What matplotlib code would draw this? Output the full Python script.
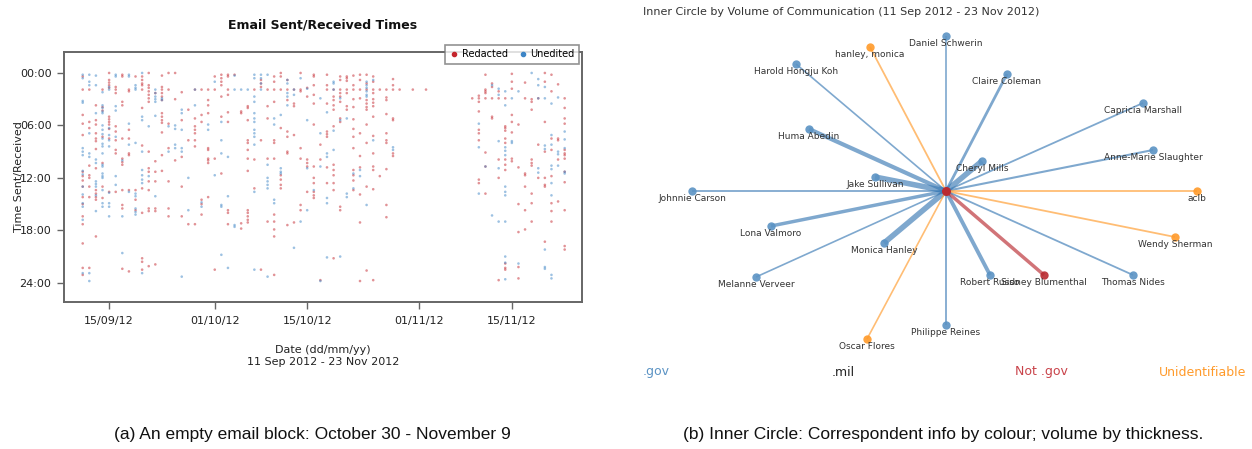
import numpy as np
import matplotlib
matplotlib.use("Agg")
import matplotlib.pyplot as plt
import matplotlib.dates as mdates
from matplotlib.lines import Line2D

# ── Panel (a): email times, hours of day per day since 11 Sep 2012 ───────────
START_DATE = np.datetime64("2012-09-11")

redacted_hours_by_day = [
    [0.4, 1.9, 4.8, 5.8, 7.1, 11.3, 11.8, 12.3, 13.0, 14.2, 15.0, 16.4, 17.3, 19.5, 22.3, 23.1],
    [1.9, 5.6, 6.3, 10.6, 11.7, 12.0, 13.0, 14.2, 22.3],
    [3.7, 5.4, 5.9, 6.9, 7.5, 7.8, 8.7, 10.9, 13.4, 13.8, 14.2, 14.5, 18.7],
    [1.9, 3.9, 4.3, 7.3, 10.3, 13.0, 14.3],
    [0.0, 0.8, 1.1, 1.4, 1.7, 5.0, 5.3, 5.6, 5.9, 6.4, 7.5, 13.6],
    [1.6, 1.9, 2.3, 6.1, 6.7, 7.7, 8.8, 9.2, 13.6],
    [0.2, 0.4, 3.3, 3.7, 7.5, 9.8, 10.2, 10.5, 13.4, 15.1, 15.5, 22.4],
    [1.9, 2.1, 6.5, 7.5, 9.2, 9.4, 13.4, 22.7],
    [0.4, 13.4, 14.5, 15.7],
    [0.4, 0.8, 1.2, 1.4, 1.9, 4.0, 8.3, 13.2, 16.0, 21.2, 21.6, 22.5],
    [0.0, 1.4, 1.7, 2.1, 2.5, 2.9, 3.3, 9.0, 10.9, 11.3, 12.4, 13.4, 15.5, 15.8, 22.1],
    [2.3, 10.1, 11.3, 12.4, 15.5, 15.8, 21.9],
    [0.3, 1.6, 1.9, 2.3, 2.7, 3.1, 4.6, 5.0, 5.4, 5.7, 6.8, 9.4, 11.2],
    [0.0, 1.9, 5.8, 8.6, 12.4, 15.5, 16.4],
    [0.0, 3.0, 10.0],
    [2.2, 5.4, 9.6, 13.0, 16.4],
    [4.2, 7.7, 17.3],
    [1.9, 5.2, 6.1, 6.5, 6.9, 7.7, 8.4, 17.3],
    [1.9, 4.8, 5.6, 14.5, 15.0, 16.2],
    [1.9, 3.1, 3.7, 4.6, 8.6, 8.8, 9.8, 10.0, 10.3, 14.2],
    [0.4, 1.9, 9.8, 22.5],
    [0.2, 0.6, 1.0, 1.4, 2.7, 5.0, 11.5],
    [0.2, 0.4, 1.9, 2.5, 4.5, 5.6, 15.7, 16.0, 17.3],
    [0.2],
    [4.4, 4.6, 17.2, 17.8],
    [3.8, 4.0, 5.4, 7.7, 8.0, 8.8, 9.8, 11.2, 15.7, 16.0, 16.4, 16.8, 17.1],
    [1.9, 9.9, 13.2],
    [0.8, 1.2, 1.6, 7.7, 22.5],
    [1.9, 3.8, 5.2, 9.8, 17.0],
    [0.4, 1.0, 1.9, 3.3, 7.7, 8.0, 9.8, 16.2, 17.0, 17.9, 18.7, 23.1],
    [0.0, 0.4, 1.9, 6.3, 11.7, 12.2, 12.8, 13.2],
    [0.8, 1.9, 3.1, 6.7, 7.3, 9.0, 9.2, 17.4],
    [1.9, 3.5, 3.8, 7.1, 17.1],
    [0.0, 1.9, 2.1, 8.6, 9.8, 15.1, 15.7],
    [1.7, 2.7, 9.9, 10.3, 10.7, 13.6],
    [0.2, 0.4, 1.4, 2.5, 3.5, 5.9, 10.7, 12.0, 12.6, 13.6, 14.0, 14.3],
    [8.2, 9.9, 23.7],
    [0.2, 1.4, 1.9, 3.5, 6.7, 7.0, 7.3, 10.8, 12.6],
    [1.9, 2.7, 3.1, 3.7, 4.2, 6.1, 10.5, 11.1, 11.7, 12.6, 13.4, 21.2],
    [0.4, 0.8, 1.9, 2.3, 2.7, 3.3, 5.2, 5.6, 15.3, 15.7],
    [0.4, 0.6, 0.9, 1.9, 2.3, 3.8, 4.2],
    [0.3, 1.4, 1.9, 3.0, 3.9, 5.3, 6.4, 7.3, 8.6, 11.1, 11.7, 12.3, 13.4],
    [0.2, 0.8, 1.9, 2.9, 6.9, 9.5, 10.8, 13.9, 17.1, 23.8],
    [0.2, 1.2, 1.9, 3.1, 3.5, 3.9, 4.2, 5.9, 8.0, 13.0, 22.6],
    [0.4, 1.0, 1.9, 2.3, 3.0, 3.4, 3.8, 5.0, 7.2, 9.2, 10.7, 11.1, 13.3, 23.7],
    [1.9, 11.8],
    [1.9, 2.8, 3.1, 4.7, 6.9, 7.7, 8.0, 11.0, 15.1, 16.5],
    [0.7, 1.4, 1.9, 5.2, 5.4, 9.2, 9.5],
    [1.9],
    [],
    [1.9],
    [],
    [1.9],
    [], [], [], [], [], [],
    [2.9],
    [2.6, 2.9, 3.3, 4.4, 6.5, 6.9, 7.7, 12.2, 12.6],
    [0.2, 1.9, 2.1, 2.3, 2.9, 9.1, 10.7, 13.8],
    [1.2, 1.6, 2.9, 5.0, 5.2],
    [2.1, 2.9, 9.9, 12.0, 23.7],
    [2.9, 6.1, 6.3, 6.6, 7.5, 8.0, 9.9, 10.5, 11.1, 21.8, 22.3, 22.5],
    [0.1, 1.0, 1.8, 4.8, 5.6, 6.8, 9.8, 10.1],
    [5.9, 10.8, 15.0, 18.2, 22.2, 23.5],
    [1.1, 2.9, 11.5, 11.7, 13.0, 15.7, 17.9],
    [3.0, 3.3, 4.2, 9.9, 10.3, 10.6, 13.8, 14.9, 17.0],
    [2.9, 8.2, 12.0],
    [0.0, 1.0, 5.6, 9.0, 12.0, 12.8, 13.0, 19.3],
    [0.2, 2.1, 7.5, 8.8, 11.8, 14.9, 15.8, 17.0],
    [1.3, 7.5, 7.7, 9.9, 14.7],
    [2.9, 4.0, 5.2, 5.8, 8.8, 9.2, 9.4, 9.8, 11.3, 12.5, 15.7, 19.8, 20.2],
]

unedited_hours_by_day = [
    [0.2, 0.6, 3.2, 3.4, 8.6, 9.0, 9.4, 11.2, 11.6, 13.0, 13.9, 14.9, 15.3, 16.8, 22.9],
    [0.2, 1.0, 1.4, 6.9, 9.2, 9.6, 22.9, 23.8],
    [0.3, 1.4, 4.6, 9.9, 10.3, 12.4, 12.7, 13.0, 14.0, 15.8],
    [2.2, 3.7, 4.0, 4.4, 4.6, 6.0, 6.5, 7.0, 7.5, 8.1, 8.4, 9.2, 10.5, 10.7, 11.5, 11.8, 12.0, 13.4, 14.9, 15.3],
    [1.6, 1.9, 6.3, 7.1, 7.7, 8.4, 13.7, 14.9, 15.3, 16.4],
    [0.2, 0.4, 3.8, 4.3, 7.3, 11.8, 12.8],
    [10.0, 16.4, 20.6],
    [0.2, 0.4, 5.8, 8.2, 13.6],
    [1.4, 1.7, 1.9, 8.0, 13.8, 14.1, 15.5, 15.9, 16.2],
    [0.0, 5.0, 5.4, 9.0, 11.1, 11.7, 12.2, 12.6, 22.9],
    [6.1, 11.8],
    [1.9, 2.3, 2.7, 3.0, 3.3, 4.9, 14.1],
    [2.9, 3.1],
    [6.1, 9.0],
    [6.0, 6.4, 8.2, 8.6],
    [4.2, 4.6, 6.5, 8.6, 9.0, 23.3],
    [12.0, 15.7],
    [1.9, 3.7],
    [14.8, 15.3],
    [5.9, 6.5],
    [1.0, 11.7],
    [5.6, 7.7, 9.2, 15.1, 15.3, 20.8],
    [9.6, 14.1, 22.3],
    [0.3, 1.9, 17.4, 17.6],
    [1.9],
    [1.9],
    [0.2, 0.6, 2.7, 3.3, 4.6, 5.2, 5.6, 6.5, 6.9, 7.3, 8.2, 13.6, 22.5],
    [0.2, 0.6, 1.2, 1.9],
    [0.2, 10.5, 12.0, 12.4, 12.8, 13.2, 23.3],
    [5.2, 5.9, 14.5, 14.9],
    [4.8, 10.9, 11.3, 11.5],
    [0.8, 1.2, 2.3, 2.7, 3.7],
    [1.9, 2.5, 20.0],
    [0.6, 17.0],
    [1.8, 5.4, 10.9, 15.7],
    [13.4],
    [2.9, 6.9, 10.7, 23.8],
    [4.5, 9.2, 9.6, 14.3, 14.9, 21.1],
    [1.0, 1.2, 1.9, 6.6, 8.8],
    [2.9, 5.4, 21.0],
    [5.2, 13.8, 14.2],
    [11.5, 13.2],
    [11.1, 11.8],
    [1.0, 1.4, 1.7, 2.1, 2.5, 2.7, 15.1],
    [0.8, 7.7],
    [],
    [],
    [8.5, 8.8],
    [], [], [], [], [], [], [], [], [], [], [], [],
    [5.8, 8.5, 13.8],
    [10.7],
    [1.4, 16.3],
    [1.8, 2.5, 7.8, 10.9, 17.0],
    [2.1, 3.7, 8.5, 8.9, 9.4, 13.0, 13.6, 14.0, 17.0, 21.0, 21.7, 23.6],
    [2.9, 7.8, 8.0],
    [2.1, 21.8],
    [],
    [0.0],
    [0.7, 1.4, 2.9, 10.9, 11.4],
    [1.6, 2.9, 8.3, 8.7, 20.2, 22.2, 22.4],
    [3.5, 7.1, 8.2, 10.6, 11.0, 12.6, 14.0, 23.1, 23.5],
    [2.8, 9.0, 9.3, 10.6],
    [6.7, 7.6, 8.6, 11.3, 11.5],
]

date_ticks = ["2012-09-15", "2012-10-01", "2012-10-15", "2012-11-01", "2012-11-15"]
hour_ticks = [0, 6, 12, 18, 24]
hour_labels = ["00:00", "06:00", "12:00", "18:00", "24:00"]

# ── Panel (b): inner circle network ──────────────────────────────────────────
names = [
    "Daniel Schwerin", "hanley, monica", "Harold Hongju Koh", "Claire Coleman",
    "Capricia Marshall", "Huma Abedin", "Anne-Marie Slaughter", "Cheryl Mills",
    "Jake Sullivan", "Johnnie Carson", "aclb", "Lona Valmoro", "Wendy Sherman",
    "Monica Hanley", "Melanne Verveer", "Robert Russo", "Sidney Blumenthal",
    "Thomas Nides", "Philippe Reines", "Oscar Flores",
]
node_x = [0.00, -0.76, -1.50, 0.61, 1.97, -1.37, 2.07, 0.36, -0.71, -2.54,
          2.51, -1.75, 2.29, -0.62, -1.90, 0.44, 0.98, 1.87, 0.00, -0.79]
node_y = [1.55, 1.44, 1.27, 1.17, 0.88, 0.62, 0.41, 0.30, 0.14, 0.00,
          0.00, -0.35, -0.46, -0.52, -0.86, -0.84, -0.84, -0.84, -1.34, -1.48]
category = ["gov", "unid", "gov", "gov", "gov", "gov", "gov", "gov", "gov", "gov",
            "unid", "gov", "unid", "gov", "gov", "gov", "notgov", "gov", "gov", "unid"]
volume = [12, 13, 12, 20, 13, 30, 15, 40, 40, 13,
          13, 25, 13, 40, 12, 28, 25, 13, 13, 12]

RED = "#c4262e"
BLUE = "#3d85c6"
cat_color = {"gov": "#3a7ab5", "notgov": "#b92a30", "unid": "#ff9a2a"}
node_color = {"gov": "#5b93c4", "notgov": "#b92a30", "unid": "#ff9a2a"}

W, H = 1252, 449
fig = plt.figure(figsize=(W / 100, H / 100), dpi=100)


def fx(px):
    return px / W


def fy(py):
    return 1 - py / H


# ── Panel (a) ────────────────────────────────────────────────────────────────
ax = fig.add_axes([fx(64), fy(302), fx(582) - fx(64), fy(52) - fy(302)])

for hours_by_day, color in [(redacted_hours_by_day, RED), (unedited_hours_by_day, BLUE)]:
    days = [d for d, hrs in enumerate(hours_by_day) for _ in hrs]
    hours = [h for hrs in hours_by_day for h in hrs]
    dates = START_DATE + np.array(days, dtype="timedelta64[D]")
    ax.scatter(dates, hours, s=3.5, color=color, alpha=0.5, edgecolors="none")

ax.set_xlim(np.datetime64("2012-09-08T04:00"), np.datetime64("2012-11-25T15:00"))
ax.set_ylim(26.2, -2.4)
ax.set_xticks([np.datetime64(d) for d in date_ticks])
ax.xaxis.set_major_formatter(mdates.DateFormatter("%d/%m/%y"))
ax.set_yticks(hour_ticks)
ax.set_yticklabels(hour_labels)

for sp in ax.spines.values():
    sp.set_color("#666666")
    sp.set_linewidth(1.4)
ax.tick_params(axis="x", length=5, width=1, color="#666666", pad=5,
               labelsize=8, labelcolor="#222222")
ax.tick_params(axis="y", length=5, width=1, color="#666666", pad=4,
               labelsize=8, labelcolor="#222222")

# the label sits on top of the tick labels, as in the original
ax.set_ylabel("Time Sent/Received", fontsize=8, color="#222222")
ax.yaxis.set_label_coords(-0.077, 0.5)
fig.text(fx(323), fy(356), "Date (dd/mm/yy)\n11 Sep 2012 - 23 Nov 2012",
         ha="center", va="center", fontsize=8, color="#222222", linespacing=1.3)
fig.text(fx(323), fy(25), "Email Sent/Received Times", ha="center", va="center",
         fontsize=9, fontweight="bold", color="#111111")

handles = [
    Line2D([], [], marker="o", linestyle="none", color=RED, markersize=3),
    Line2D([], [], marker="o", linestyle="none", color=BLUE, markersize=3),
]
leg = fig.legend(handles, ["Redacted", "Unedited"], ncol=2, fontsize=7,
                 loc="upper right", bbox_to_anchor=(fx(584), fy(40)),
                 frameon=True, fancybox=False, edgecolor="#777777",
                 handletextpad=0.3, columnspacing=1.0, borderpad=0.45,
                 handlelength=1.0)
leg.get_frame().set_linewidth(1.2)

# ── Panel (b) ────────────────────────────────────────────────────────────────
CX = 946
bx = fig.add_axes([fx(643), fy(380), fx(1246) - fx(643), fy(20) - fy(380)])
bx.set_xlim((643 - CX) / 100, (1246 - CX) / 100)
bx.set_ylim((191 - 380) / 100, (191 - 20) / 100)
bx.axis("off")

for x, y, cat, vol in zip(node_x, node_y, category, volume):
    bx.plot([0, x], [0, y], color=cat_color[cat], lw=vol / 10, alpha=0.65,
            solid_capstyle="butt", zorder=1)
for x, y, cat in zip(node_x, node_y, category):
    bx.plot(x, y, "o", color=node_color[cat], markersize=6, alpha=0.9,
            markeredgewidth=0, zorder=3)
bx.plot(0, 0, "o", color="#b92a30", markersize=6.5, markeredgewidth=0, zorder=4)

for name, x, y in zip(names, node_x, node_y):
    bx.text(x, y - 0.075, name, ha="center", va="center", fontsize=6.5,
            color="#333333", zorder=5)

fig.text(fx(643), fy(12), "Inner Circle by Volume of Communication (11 Sep 2012 - 23 Nov 2012)",
         ha="left", va="center", fontsize=8, color="#333333")

fig.text(fx(643), fy(372), ".gov", ha="left", va="center", fontsize=9, color="#5b93c4")
fig.text(fx(843), fy(372), ".mil", ha="center", va="center", fontsize=9, color="#222222")
fig.text(fx(1041), fy(372), "Not .gov", ha="center", va="center", fontsize=9, color="#c9434a")
fig.text(fx(1246), fy(372), "Unidentifiable", ha="right", va="center", fontsize=9, color="#ff9a2a")

# ── Captions ─────────────────────────────────────────────────────────────────
cap_font = ["Liberation Sans", "DejaVu Sans"]
fig.text(fx(312), fy(435), "(a) An empty email block: October 30 - November 9",
         ha="center", va="center", fontsize=12.5, family=cap_font, color="#111111")
fig.text(fx(943), fy(435), "(b) Inner Circle: Correspondent info by colour; volume by thickness.",
         ha="center", va="center", fontsize=12.5, family=cap_font, color="#111111")

fig.savefig("out.png", dpi=100)
